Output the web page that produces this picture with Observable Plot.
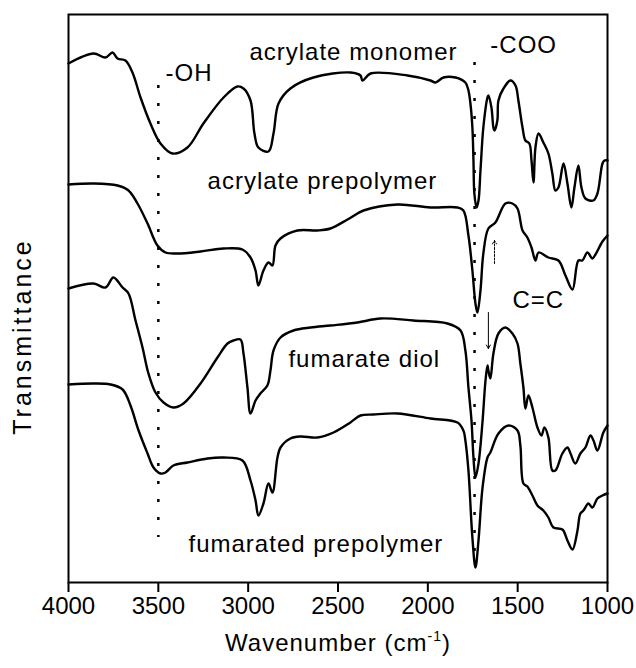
<!DOCTYPE html>
<html>
<head>
<meta charset="utf-8">
<script src="https://cdn.jsdelivr.net/npm/d3@7"></script>
<script src="https://cdn.jsdelivr.net/npm/@observablehq/plot@0.6"></script>
<style>
  html, body { margin: 0; padding: 0; background: #fff; }
</style>
</head>
<body>
<div id="chart"></div>
<script>
// x-axis ticks (wavenumber, cm-1)
const xTicks = [4000, 3500, 3000, 2500, 2000, 1500, 1000];

// Spectra: [wavenumber, transmittance (a.u., stacked offsets)]
const acrylateMonomer = [
  [4000,519],[3861,529],[3794,525],[3755,530],[3727,524],[3683,522],[3644,510],[3599,485],[3544,459],[3488,439],
  [3421,429],[3338,435],[3249,459],[3137,485],[3060,496],[3026,494],[2987,482],[2965,449],[2943,435],[2887,431],
  [2859,449],[2831,479],[2765,494],[2637,505],[2431,510],[2375,507],[2364,502],[2319,509],[2113,507],[1985,502],
  [1958,500],[1913,505],[1846,505],[1791,500],[1774,492],[1763,479],[1752,455],[1746,422],[1741,389],[1729,375],
  [1718,382],[1707,412],[1691,455],[1668,485],[1663,487],[1646,475],[1635,455],[1629,452],[1613,462],[1607,482],
  [1579,494],[1540,502],[1512,497],[1496,482],[1473,455],[1457,442],[1435,439],[1423,422],[1412,400],[1401,435],
  [1384,449],[1357,440],[1329,429],[1307,409],[1290,392],[1273,395],[1245,419],[1223,399],[1201,375],[1184,395],
  [1162,417],[1145,395],[1123,384],[1078,382],[1056,389],[1028,419],[1017,422],[1000,422]
];

const acrylatePrepolymer = [
  [4000,398],[3861,399],[3727,397],[3666,392],[3616,379],[3560,359],[3505,337],[3460,330],[3393,329],[3265,331],
  [3137,334],[3032,333],[2987,325],[2959,312],[2943,297],[2915,312],[2887,320],[2865,317],[2848,337],[2820,344],
  [2726,352],[2614,352],[2542,354],[2447,363],[2358,372],[2169,378],[1985,375],[1835,375],[1802,372],[1774,347],
  [1752,312],[1735,279],[1724,270],[1707,292],[1691,329],[1663,354],[1624,360],[1568,379],[1529,379],[1501,374],
  [1473,352],[1446,345],[1423,335],[1401,322],[1384,330],[1329,325],[1273,322],[1234,307],[1195,293],[1162,322],
  [1140,322],[1112,330],[1084,324],[1067,328],[1028,341],[1000,347]
];

const fumarateDiol = [
  [4000,294],[3861,299],[3794,295],[3750,305],[3699,295],[3666,289],[3627,262],[3588,235],[3555,209],[3516,190],
  [3471,180],[3416,175],[3360,179],[3265,199],[3171,225],[3115,239],[3082,242],[3043,243],[3026,229],[3004,195],
  [2987,169],[2959,182],[2932,189],[2893,197],[2876,212],[2859,232],[2820,245],[2748,252],[2653,255],[2542,257],
  [2392,260],[2264,264],[2080,262],[1891,259],[1818,252],[1791,232],[1774,195],[1757,162],[1746,125],[1735,105],
  [1718,119],[1696,160],[1679,202],[1668,217],[1663,212],[1652,204],[1635,229],[1607,249],[1568,255],[1529,249],
  [1501,239],[1485,219],[1468,195],[1457,174],[1440,187],[1418,175],[1390,155],[1368,147],[1351,155],[1329,145],
  [1307,112],[1290,112],[1251,129],[1223,135],[1206,129],[1179,119],[1151,129],[1123,135],[1095,147],[1078,142],
  [1056,132],[1023,150],[1000,157]
];

const fumaratedPrepolymer = [
  [4000,198],[3861,199],[3766,198],[3699,193],[3655,177],[3610,152],[3560,129],[3527,115],[3488,109],[3460,110],
  [3416,117],[3338,120],[3226,124],[3137,125],[3032,122],[2987,102],[2959,82],[2943,67],[2915,79],[2887,99],
  [2865,90],[2837,125],[2820,135],[2765,144],[2709,146],[2614,145],[2525,150],[2431,160],[2375,167],[2303,168],
  [2169,169],[1985,164],[1835,160],[1802,152],[1791,142],[1774,112],[1752,45],[1735,15],[1718,42],[1696,94],
  [1668,125],[1652,130],[1607,149],[1551,157],[1501,152],[1485,137],[1468,99],[1446,96],[1418,87],[1390,77],
  [1357,72],[1329,65],[1301,55],[1251,53],[1223,42],[1195,33],[1168,51],[1151,69],[1134,72],[1106,79],
  [1084,75],[1056,84],[1028,87],[1000,89]
];

const seriesNames = ["acrylate monomer", "acrylate prepolymer", "fumarate diol", "fumarated prepolymer"];
const seriesData = [acrylateMonomer, acrylatePrepolymer, fumarateDiol, fumaratedPrepolymer];

// Annotation labels
const labelTexts = ["-OH", "acrylate monomer", "-COO", "acrylate prepolymer", "C=C", "fumarate diol", "fumarated prepolymer"];
const labelWn    = [3460, 2993, 1652, 3226, 1529, 2776, 3332];
const labelT     = [502, 523, 530, 394, 275, 216, 31];

// Dotted guide lines
const guideWn     = [3500, 1740];
const guideTop    = [497, 520];
const guideBottom = [45, 25];

// Small arrows (C=C band)
const upArrow   = [{wn: 1629, from: 319, to: 342}];
const downArrow = [{wn: 1663, from: 270, to: 234}];

const xTitle = "Wavenumber (cm-1)";
const yTitle = "Transmittance";

const rows = seriesData.flatMap((pts, i) => pts.map(([wn, t]) => ({series: seriesNames[i], wn, t})));
const labels = labelTexts.map((label, i) => ({label, wn: labelWn[i], t: labelT[i]}));
const guides = guideWn.map((wn, i) => ({wn, top: guideTop[i], bottom: guideBottom[i]}));

const plot = Plot.plot({
  width: 636,
  height: 668,
  marginLeft: 68,
  marginRight: 29,
  marginTop: 14,
  marginBottom: 86,
  style: {fontFamily: '"Liberation Sans", Arial, sans-serif', fontSize: "24px", background: "#fff", color: "#000"},
  x: {domain: [4000, 1000]},
  y: {domain: [0, 568], axis: null},
  marks: [
    Plot.frame({strokeWidth: 2}),
    Plot.ruleX(guides, {x: "wn", y1: "top", y2: "bottom", strokeWidth: 2.5, strokeDasharray: "3,15"}),
    Plot.line(rows, {x: "wn", y: "t", z: "series", stroke: "#000", strokeWidth: 2.4, strokeLinejoin: "round", curve: "catmull-rom"}),
    Plot.arrow(upArrow, {x1: "wn", x2: "wn", y1: "from", y2: "to", strokeWidth: 1, headLength: 6, strokeDasharray: "2,1.5"}),
    Plot.arrow(downArrow, {x1: "wn", x2: "wn", y1: "from", y2: "to", strokeWidth: 1, headLength: 6}),
    Plot.text(labels, {x: "wn", y: "t", text: "label", textAnchor: "start", lineAnchor: "bottom", fontSize: 24}),
    Plot.axisX({ticks: xTicks, tickSize: 10, tickPadding: 4, tickFormat: d => String(d), strokeWidth: 2, fontSize: 24, label: null}),
    Plot.text([yTitle], {frameAnchor: "left", textAnchor: "middle", rotate: -90, dx: -46, dy: 38, fontSize: 25}),
    Plot.text([xTitle], {frameAnchor: "bottom", textAnchor: "middle", dy: 68, fontSize: 24})
  ]
});

document.getElementById("chart").appendChild(plot);

// letter spacing on annotation text
d3.select(plot).selectAll('g[aria-label="text"] text').attr("letter-spacing", "1");
d3.select(plot).selectAll("text").filter(function () { return this.textContent === yTitle; })
  .attr("letter-spacing", "3");

// superscript for cm-1
d3.select(plot).selectAll("text").filter(function () { return this.textContent === xTitle; })
  .each(function () {
    const t = d3.select(this);
    t.text(null);
    t.append("tspan").text("Wavenumber (cm");
    t.append("tspan").attr("font-size", 14).attr("dy", -10).text("-1");
    t.append("tspan").attr("dy", 10).text(")");
  });
</script>
</body>
</html>
